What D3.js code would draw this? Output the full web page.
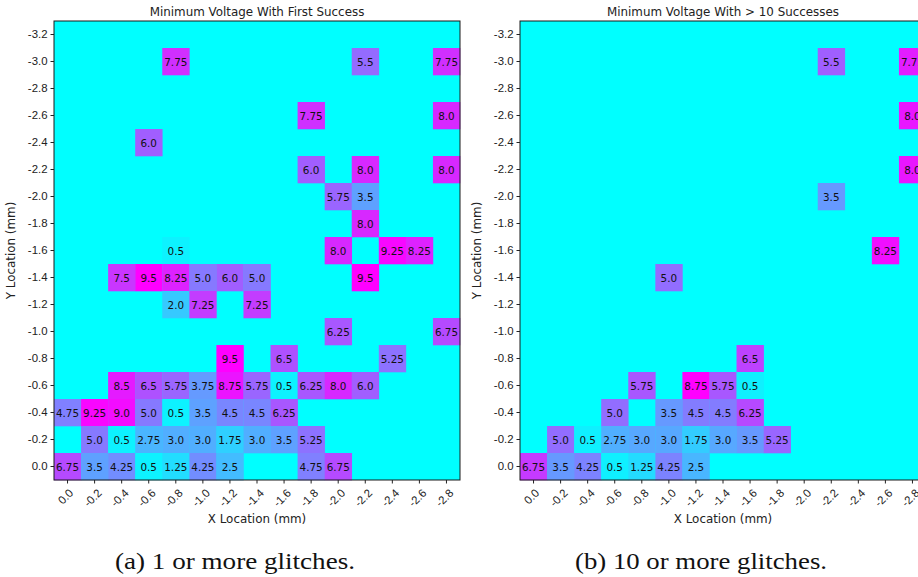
<!DOCTYPE html>
<html>
<head>
<meta charset="utf-8">
<script src="https://cdn.jsdelivr.net/npm/d3@7"></script>
<style>
  body { margin: 0; background: #fff; }
  svg { display: block; font-family: "DejaVu Sans", sans-serif; }
</style>
</head>
<body>
<svg id="chart" width="918" height="577"></svg>
<script>
// x / y positions (mm)
let x_labels = ["0.0", "-0.2", "-0.4", "-0.6", "-0.8", "-1.0", "-1.2", "-1.4", "-1.6", "-1.8", "-2.0", "-2.2", "-2.4", "-2.6", "-2.8"];
let y_labels = ["0.0", "-0.2", "-0.4", "-0.6", "-0.8", "-1.0", "-1.2", "-1.4", "-1.6", "-1.8", "-2.0", "-2.2", "-2.4", "-2.6", "-2.8", "-3.0", "-3.2"];

// cells: [x index, y index, voltage]
let first_success = [
  [4, 15, 7.75], [11, 15, 5.5], [14, 15, 7.75],
  [9, 13, 7.75], [14, 13, 8.0],
  [3, 12, 6.0],
  [9, 11, 6.0], [11, 11, 8.0], [14, 11, 8.0],
  [10, 10, 5.75], [11, 10, 3.5],
  [11, 9, 8.0],
  [4, 8, 0.5], [10, 8, 8.0], [12, 8, 9.25], [13, 8, 8.25],
  [2, 7, 7.5], [3, 7, 9.5], [4, 7, 8.25], [5, 7, 5.0], [6, 7, 6.0], [7, 7, 5.0], [11, 7, 9.5],
  [4, 6, 2.0], [5, 6, 7.25], [7, 6, 7.25],
  [10, 5, 6.25], [14, 5, 6.75],
  [6, 4, 9.5], [8, 4, 6.5], [12, 4, 5.25],
  [2, 3, 8.5], [3, 3, 6.5], [4, 3, 5.75], [5, 3, 3.75], [6, 3, 8.75], [7, 3, 5.75], [8, 3, 0.5], [9, 3, 6.25], [10, 3, 8.0], [11, 3, 6.0],
  [0, 2, 4.75], [1, 2, 9.25], [2, 2, 9.0], [3, 2, 5.0], [4, 2, 0.5], [5, 2, 3.5], [6, 2, 4.5], [7, 2, 4.5], [8, 2, 6.25],
  [1, 1, 5.0], [2, 1, 0.5], [3, 1, 2.75], [4, 1, 3.0], [5, 1, 3.0], [6, 1, 1.75], [7, 1, 3.0], [8, 1, 3.5], [9, 1, 5.25],
  [0, 0, 6.75], [1, 0, 3.5], [2, 0, 4.25], [3, 0, 0.5], [4, 0, 1.25], [5, 0, 4.25], [6, 0, 2.5], [9, 0, 4.75], [10, 0, 6.75]
];

let ten_successes = [
  [11, 15, 5.5], [14, 15, 7.75],
  [14, 13, 8.0],
  [14, 11, 8.0],
  [11, 10, 3.5],
  [13, 8, 8.25],
  [5, 7, 5.0],
  [8, 4, 6.5],
  [4, 3, 5.75], [6, 3, 8.75], [7, 3, 5.75], [8, 3, 0.5],
  [3, 2, 5.0], [5, 2, 3.5], [6, 2, 4.5], [7, 2, 4.5], [8, 2, 6.25],
  [1, 1, 5.0], [2, 1, 0.5], [3, 1, 2.75], [4, 1, 3.0], [5, 1, 3.0], [6, 1, 1.75], [7, 1, 3.0], [8, 1, 3.5], [9, 1, 5.25],
  [0, 0, 6.75], [1, 0, 3.5], [2, 0, 4.25], [3, 0, 0.5], [4, 0, 1.25], [5, 0, 4.25], [6, 0, 2.5]
];

let panels = [
  { title: "Minimum Voltage With First Success", caption: "(a) 1 or more glitches.", cells: first_success, left: 54, caption_x: 235, caption_w: 240 },
  { title: "Minimum Voltage With > 10 Successes", caption: "(b) 10 or more glitches.", cells: ten_successes, left: 520, caption_x: 701, caption_w: 252 }
];

let top_y = 21, plot_w = 406, plot_h = 459;

let svg = d3.select("#chart");

// the right panel runs past the page edge, as in the reference
panels.forEach(p => draw_panel(p));

function draw_panel(p) {
  let x = d3.scaleBand().domain(d3.range(x_labels.length)).range([p.left, p.left + plot_w]);
  let y = d3.scaleBand().domain(d3.range(y_labels.length)).range([top_y + plot_h, top_y]);
  let vmax = d3.max(p.cells, d => d[2]);
  let color = d3.scaleLinear().domain([0, vmax]).range(["#00ffff", "#ff00ff"]).interpolate(d3.interpolateRgb);

  let g = svg.append("g");

  g.append("rect")
    .attr("x", p.left).attr("y", top_y)
    .attr("width", plot_w).attr("height", plot_h)
    .attr("fill", color(0));

  g.selectAll("rect.cell")
    .data(p.cells)
    .join("rect")
      .classed("cell", true)
      .attr("x", d => x(d[0]))
      .attr("y", d => y(d[1]))
      .attr("width", x.bandwidth() + 0.3)
      .attr("height", y.bandwidth() + 0.3)
      .attr("fill", d => color(d[2]));

  g.selectAll("text.val")
    .data(p.cells)
    .join("text")
      .classed("val", true)
      .attr("x", d => x(d[0]) + x.bandwidth() / 2)
      .attr("y", d => y(d[1]) + y.bandwidth() / 2)
      .attr("text-anchor", "middle")
      .attr("dominant-baseline", "central")
      .attr("font-size", 10.4)
      .attr("fill", "#111")
      .text(d => d[2].toFixed(d[2] % 0.5 == 0 ? 1 : 2));

  // frame
  g.append("rect")
    .attr("x", p.left).attr("y", top_y)
    .attr("width", plot_w).attr("height", plot_h)
    .attr("fill", "none").attr("stroke", "#1a1a1a").attr("stroke-width", 1);

  // y axis
  let ya = g.append("g")
    .attr("transform", "translate(" + p.left + ",0)")
    .call(d3.axisLeft(y).tickSize(3.5).tickPadding(3).tickFormat(i => y_labels[i]));
  ya.select(".domain").remove();
  ya.selectAll("text").attr("font-size", 11.4).attr("font-family", null).attr("fill", "#222");
  ya.selectAll("line").attr("stroke", "#222");

  // x axis
  let xa = g.append("g")
    .attr("transform", "translate(0," + (top_y + plot_h) + ")")
    .call(d3.axisBottom(x).tickSize(3.5).tickFormat(i => x_labels[i]));
  xa.select(".domain").remove();
  xa.selectAll("line").attr("stroke", "#222");
  xa.selectAll("text")
    .attr("font-size", 11.4).attr("font-family", null).attr("fill", "#222")
    .attr("text-anchor", "middle")
    .attr("dominant-baseline", "central")
    .each(function() {
      let w = this.getComputedTextLength();
      let half = (w + 11) * 0.7071 / 2;
      d3.select(this).attr("y", 0).attr("dy", null)
        .attr("transform", "translate(-2," + (7 + half) + ") rotate(-45)");
    });

  g.append("text")
    .attr("x", p.left + plot_w / 2).attr("y", 15.5)
    .attr("text-anchor", "middle").attr("font-size", 11.9).attr("fill", "#222")
    .text(p.title);

  g.append("text")
    .attr("x", p.left + plot_w / 2).attr("y", 523)
    .attr("text-anchor", "middle").attr("font-size", 11.9).attr("fill", "#222")
    .text("X Location (mm)");

  g.append("text")
    .attr("transform", "translate(" + (p.left - 39) + "," + (top_y + plot_h / 2) + ") rotate(-90)")
    .attr("text-anchor", "middle").attr("font-size", 11.9).attr("fill", "#222")
    .text("Y Location (mm)");

  g.append("text")
    .attr("x", p.caption_x).attr("y", 569)
    .attr("text-anchor", "middle")
    .attr("font-size", 23)
    .style("font-family", "'Liberation Serif', 'DejaVu Serif', serif")
    .attr("textLength", p.caption_w)
    .attr("lengthAdjust", "spacingAndGlyphs")
    .attr("fill", "#111")
    .text(p.caption);
}
</script>
</body>
</html>
